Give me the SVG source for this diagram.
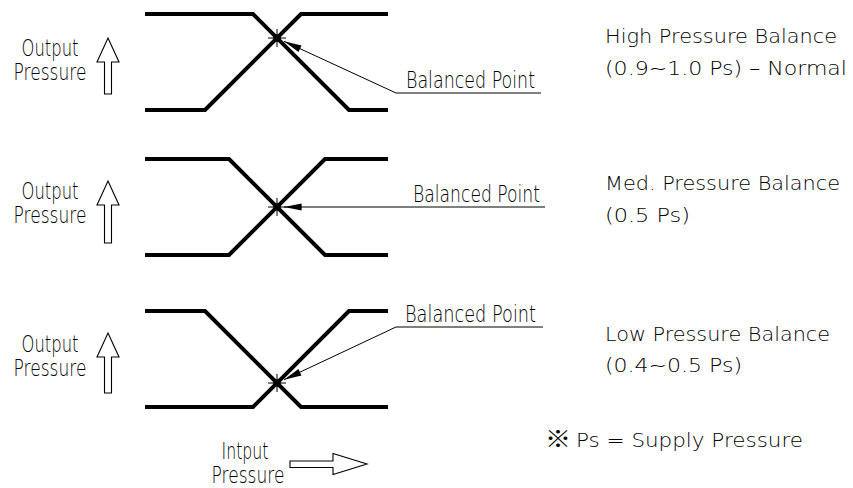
<svg xmlns="http://www.w3.org/2000/svg" width="853" height="488" viewBox="0 0 853 488">
<style>
  .curve { fill: none; stroke: #000; stroke-width: 4; stroke-linejoin: miter; }
  .lead { fill: none; stroke: #000; stroke-width: 1; }
  .blk { fill: #fff; stroke: #000; stroke-width: 1.1; }
  .t { font-family: "DejaVu Sans", "Liberation Sans", "Noto Sans CJK JP", sans-serif; font-weight: 200; font-size: 23px; fill: #000; }
  .r { font-size: 20px; }
  .cjk { font-family: "Noto Sans CJK JP", sans-serif; font-weight: 300; }
  .m { text-anchor: middle; }
</style>
<defs>
  <marker id="ah" markerUnits="userSpaceOnUse" markerWidth="20" markerHeight="10" refX="0" refY="0" viewBox="-16 -4 17 8" orient="auto">
    <path d="M0,0 L-15,-3 L-15,3 Z" fill="#000"/>
  </marker>
  <g id="star">
    <circle r="3.8" fill="#000"/>
    <path d="M-9,0 H9 M0,-9 V9 M-6,-6 L6,6 M-6,6 L6,-6" stroke="#000" stroke-width="1"/>
  </g>
</defs>
<rect width="853" height="488" fill="#fff"/>

<g id="graph-high">
  <path class="curve" d="M145,14 H253 L349,110 H388"/>
  <path class="curve" d="M145,110 H205 L301,14 H388"/>
  <use href="#star" x="277" y="38"/>
</g>
<g id="graph-med">
  <path class="curve" d="M145,159 H229 L325,255 H388"/>
  <path class="curve" d="M145,255 H229 L325,159 H388"/>
  <use href="#star" x="277" y="207"/>
</g>
<g id="graph-low">
  <path class="curve" d="M145,311 H205 L301,407 H388"/>
  <path class="curve" d="M145,407 H253 L349,311 H388"/>
  <use href="#star" x="277" y="383"/>
</g>

<g id="connectors">
  <path class="lead" d="M541,93 H396 L284,41.3" marker-end="url(#ah)"/>
  <path class="lead" d="M545,207 H284" marker-end="url(#ah)"/>
  <path class="lead" d="M543,327 H396 L284,379.7" marker-end="url(#ah)"/>
</g>

<g id="label-bp-high"><text class="t" x="406" y="88" textLength="129" lengthAdjust="spacingAndGlyphs">Balanced Point</text></g>
<g id="label-bp-med"><text class="t" x="413" y="202" textLength="127" lengthAdjust="spacingAndGlyphs">Balanced Point</text></g>
<g id="label-bp-low"><text class="t" x="405" y="322" textLength="131" lengthAdjust="spacingAndGlyphs">Balanced Point</text></g>

<g id="axis-out-high">
  <text class="t m" x="50" y="56" textLength="57" lengthAdjust="spacingAndGlyphs">Output</text>
  <text class="t m" x="50" y="80" textLength="73" lengthAdjust="spacingAndGlyphs">Pressure</text>
  <path class="blk" d="M108,38 L119,62 H111.5 V94 H104.5 V62 H97 Z"/>
</g>
<g id="axis-out-med">
  <text class="t m" x="50" y="199" textLength="57" lengthAdjust="spacingAndGlyphs">Output</text>
  <text class="t m" x="50" y="223" textLength="73" lengthAdjust="spacingAndGlyphs">Pressure</text>
  <path class="blk" d="M108,181 L119,205 H111.5 V243 H104.5 V205 H97 Z"/>
</g>
<g id="axis-out-low">
  <text class="t m" x="50" y="352" textLength="57" lengthAdjust="spacingAndGlyphs">Output</text>
  <text class="t m" x="50" y="376" textLength="73" lengthAdjust="spacingAndGlyphs">Pressure</text>
  <path class="blk" d="M108,333 L119,357 H111.5 V393 H104.5 V357 H97 Z"/>
</g>
<g id="axis-in">
  <text class="t m" x="245" y="459" textLength="47" lengthAdjust="spacingAndGlyphs">Intput</text>
  <text class="t m" x="248" y="483" textLength="73" lengthAdjust="spacingAndGlyphs">Pressure</text>
  <path class="blk" d="M290,461 H333 V453.5 L367,464 L333,474.5 V467.5 H290 Z"/>
</g>

<g id="desc-high">
  <text class="t r" x="605" y="43" textLength="232" lengthAdjust="spacingAndGlyphs">High Pressure Balance</text>
  <text class="t r" x="605" y="75" textLength="242" lengthAdjust="spacingAndGlyphs">(0.9~1.0 Ps) – Normal</text>
</g>
<g id="desc-med">
  <text class="t r" x="605" y="190" textLength="235" lengthAdjust="spacingAndGlyphs">Med. Pressure Balance</text>
  <text class="t r" x="605" y="222" textLength="85" lengthAdjust="spacingAndGlyphs">(0.5 Ps)</text>
</g>
<g id="desc-low">
  <text class="t r" x="605" y="341" textLength="225" lengthAdjust="spacingAndGlyphs">Low Pressure Balance</text>
  <text class="t r" x="605" y="372" textLength="137" lengthAdjust="spacingAndGlyphs">(0.4~0.5 Ps)</text>
</g>
<g id="note">
  <text class="t cjk" x="545" y="447" textLength="26" lengthAdjust="spacingAndGlyphs">※</text>
  <text class="t r" x="576" y="447" textLength="227" lengthAdjust="spacingAndGlyphs">Ps = Supply Pressure</text>
</g>
</svg>
